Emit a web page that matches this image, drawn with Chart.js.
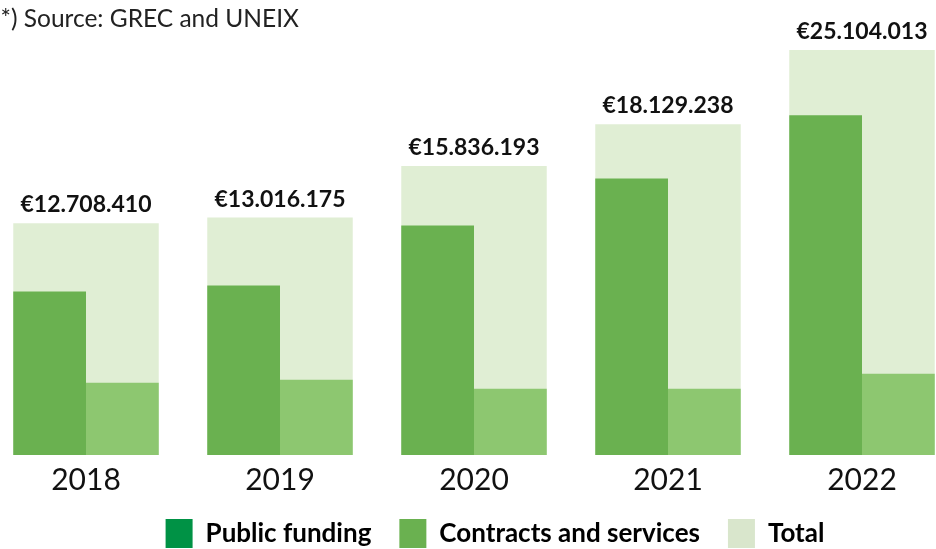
<!DOCTYPE html>
<html>
<head>
<meta charset="utf-8">
<script src="https://cdn.jsdelivr.net/npm/chart.js@4.4.1/dist/chart.umd.min.js"></script>
<style>
html, body { margin: 0; padding: 0; background: #fff; overflow: hidden; }
#wrap { position: absolute; left: -11px; top: 0; width: 970px; height: 549px; }
</style>
</head>
<body>
<div id="wrap"><canvas id="fundingChart"></canvas></div>
<script>
// data (euros)
const years = ['2018', '2019', '2020', '2021', '2022'];
const publicFunding = [8960000, 9290000, 12580000, 15160000, 18630000];
const contractsServices = [3960000, 4120000, 3630000, 3630000, 4450000];
const totals = [12708410, 13016175, 15836193, 18129238, 25104013];

// legend swatches differ from the bar fills in the original
const legendColors = ['#009245', '#6ab150', '#d9e6cc'];

function euro(v) {
    return '€' + String(v).replace(/\B(?=(\d{3})+(?!\d))/g, '.');
}

// total labels above each bar
const totalLabels = {
    id: 'totalLabels',
    afterDatasetsDraw(chart) {
        const ctx = chart.ctx;
        const meta = chart.getDatasetMeta(2);
        ctx.save();
        ctx.font = 'bold 23px Lato';
        ctx.fillStyle = '#111';
        ctx.textAlign = 'center';
        ctx.textBaseline = 'alphabetic';
        meta.data.forEach((bar, i) => {
            const top = Math.max(bar.y, chart.chartArea.top);
            ctx.fillText(euro(totals[i]), bar.x, top - 11);
        });
        ctx.restore();
    }
};

// legend and source line sit a bit right of where chart.js puts them
const nudgeBoxes = {
    id: 'nudgeBoxes',
    afterLayout(chart) {
        chart.legend.left += 21;
        chart.legend.right += 21;
        chart.titleBlock.left += 5;
        chart.titleBlock.right += 5;
    }
};

document.addEventListener('DOMContentLoaded', function() {
    const fundingData = {
        labels: years,
        datasets: [{
            label: 'Public funding',
            data: publicFunding,
            backgroundColor: '#6ab150',
            barPercentage: 1,
            categoryPercentage: 0.75,
            order: 1
        }, {
            label: 'Contracts and services',
            data: contractsServices,
            backgroundColor: '#8dc770',
            barPercentage: 1,
            categoryPercentage: 0.75,
            order: 1
        }, {
            label: 'Total',
            data: totals,
            backgroundColor: '#e0eed4',
            grouped: false,
            barPercentage: 1,
            categoryPercentage: 0.75,
            clip: 0,
            order: 2
        }]
    };

    const fundingConfig = {
        type: 'bar',
        data: fundingData,
        options: {
            responsive: true,
            maintainAspectRatio: false,
            animation: false,
            layout: { padding: { bottom: -9 } },
            scales: {
                x: {
                    grid: { display: false, drawTicks: false },
                    border: { display: false },
                    ticks: {
                        color: '#111',
                        font: { family: 'Lato', size: 30 },
                        padding: 7
                    },
                    afterFit(scale) {
                        scale.height = 36;
                    }
                },
                y: {
                    display: false,
                    min: 0,
                    max: 22200000
                }
            },
            plugins: {
                tooltip: { enabled: false },
                title: {
                    display: true,
                    text: '(*) Source: GREC and UNEIX',
                    align: 'start',
                    color: '#222',
                    font: { family: 'Lato', size: 24.5, weight: 'normal' },
                    padding: { top: 4, bottom: 16.6 }
                },
                legend: {
                    position: 'bottom',
                    labels: {
                        boxWidth: 27,
                        boxHeight: 29,
                        padding: 28,
                        color: '#111',
                        font: { family: 'Lato', size: 26, weight: 'bold' },
                        generateLabels(chart) {
                            return chart.data.datasets.map((ds, i) => ({
                                text: ds.label,
                                fillStyle: legendColors[i],
                                strokeStyle: legendColors[i],
                                lineWidth: 0,
                                datasetIndex: i
                            }));
                        }
                    }
                }
            }
        },
        plugins: [totalLabels, nudgeBoxes]
    };

    const fundingChart = new Chart(
        document.getElementById('fundingChart'),
        fundingConfig
    );
});
</script>
</body>
</html>
